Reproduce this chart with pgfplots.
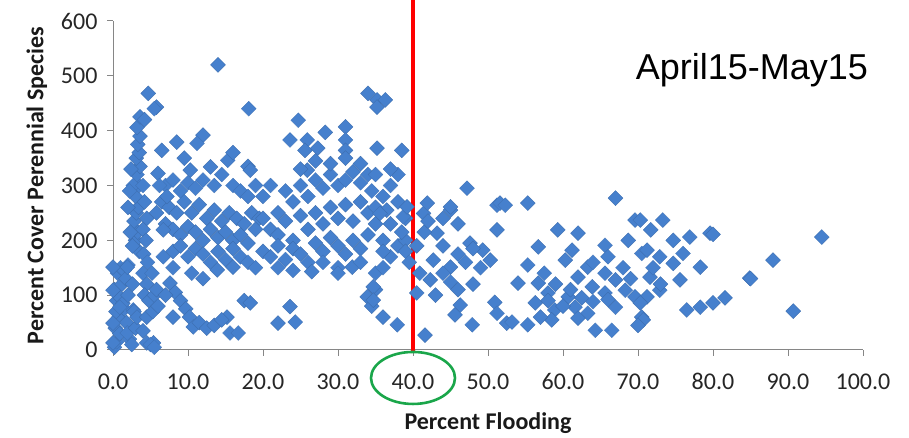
\documentclass[border=0pt]{standalone}
\usepackage{fontspec}
\setmainfont{Carlito}
\newfontfamily\arialfont{Liberation Sans}
\usepackage{pgfplots}
\pgfplotsset{compat=1.18}
\definecolor{ptblue}{RGB}{70,128,205}
\definecolor{axgray}{RGB}{134,134,134}
\definecolor{ovalgreen}{RGB}{26,166,74}
\begin{document}
\begin{tikzpicture}[x=1pt,y=1pt]
\path[use as bounding box] (0,0) rectangle (909,438);
\begin{axis}[
  at={(113pt,88pt)}, anchor=south west,
  scale only axis, width=750pt, height=329pt,
  xmin=0, xmax=100, ymin=0, ymax=600,
  axis lines*=left,
  axis line style={axgray, line width=1pt},
  tick align=outside, major tick length=6pt,
  tick style={axgray, line width=1pt},
  xtick={0,10,...,100}, ytick={0,100,...,600},
  xticklabel style={/pgf/number format/.cd, fixed, fixed zerofill, precision=1, /tikz/.cd, yshift=-14pt},
  yticklabel style={/pgf/number format/.cd, fixed, precision=0, /tikz/.cd, xshift=-6pt},
  /pgf/number format/assume math mode=true,
  ticklabel style={font=\fontsize{24}{27}\selectfont, text=black!85},
  xlabel={Percent Flooding}, ylabel={Percent Cover Perennial Species},
  label style={font=\fontsize{24}{28}\selectfont\bfseries, text=black!90},
  xlabel style={yshift=-16pt},
  ylabel style={yshift=7pt},
  clip=false,
]
\addplot[only marks, mark=square*, mark size=5.3pt,
  mark options={rotate=45, fill=ptblue, draw=ptblue!85!black, line width=0.3pt}]
coordinates {
(0.2,5)(0.5,15)(0.3,40)(0.8,60)(0.5,90)(0.2,110)(0.6,140)(1.0,150)(1.5,145)(2.0,155)
(1.2,120)(1.0,95)(1.5,75)(1.8,50)(0.9,30)(2.2,20)(1.3,85)(0.4,70)(2.0,100)(1.7,130)
(0,151)(1.9,151)(0,109)(0.9,78)(2.7,73)(0,49)(1.9,31)(0,13)(4.5,13)(5.4,13)
(2.5,10)(3,40)(2.8,70)(3.2,60)(2.6,120)(3.5,180)(3.0,200)(3.3,215)(2.8,235)(3.1,250)
(3.4,260)(3.0,280)(3.5,300)(2.7,300)(3.2,320)(3.6,335)(3.1,350)(3.5,360)(3.3,375)(3.6,390)
(3.2,406)(3.6,425)(4.2,420)(4.7,468)(5.8,443)(5.5,440)(4.0,300)(4.2,270)(4.5,240)(4.0,220)
(4.4,200)(4.1,175)(4.6,160)(4.0,140)(4.5,120)(4.2,100)(4.8,90)(4.5,60)(4.0,35)(5.0,10)
(5.5,5)(5.3,70)(5.5,100)(5.8,110)(5.2,140)(2.2,290)(2.0,260)(2.4,330)(2.6,190)(2.3,215)
(6.5,364)(8.5,379)(12,392)(11.2,377)(15.3,346)(6,322)(10.3,328)(13,334)(7,300)(8,310)
(9,290)(10,305)(11,295)(12,310)(13.5,300)(14.5,320)(16,300)(17,290)(18,280)(19,300)
(6.5,270)(7.5,260)(8.5,250)(9.5,270)(10.5,250)(11.5,265)(12.5,240)(13.5,255)(14.5,235)(15.5,250)
(16.5,240)(17.5,230)(18.5,250)(19.5,240)(7,230)(8,220)(9,210)(10,225)(11,215)(12,200)
(13,220)(14,205)(15,215)(16,200)(17,210)(18,195)(19,220)(6.7,219)(6.7,170)(8,180)
(9,190)(10,170)(11,185)(12,175)(13,160)(14,180)(15,165)(16,185)(17,170)(18,160)
(19,150)(13.9,146)(16,151)(7.6,122)(8.3,105)(9,90)(9.7,75)(10.2,60)(10.7,42)(11.5,50)
(12.5,40)(13.5,45)(15.2,60)(15.6,31)(7,100)(6,80)(8,60)(14.5,55)(17.5,90)(18.1,440)
(14,520)(9.5,350)(16,360)(18,335)(8,150)(12,130)(10.5,140)(6.2,300)(7.2,280)(5.8,250)
(18.3,86)(23.6,79)(22,49)(24.3,51)(16.7,31)(33.9,97)(34.5,80)(35,110)
(24.7,419)(31,407)(28.3,397)(23.6,383)(25.9,383)(31,383)(34,468)(25.6,364)(27.3,368)(31,364)
(18.3,328)(25.9,328)(35.2,456)(36.3,456)(35.2,443)(35.2,368)(38.5,364)
(20,280)(21,300)(22,250)(23,290)(24,270)(25,300)(26,280)(27,310)(28,295)(29,320)
(30,300)(31,310)(32,325)(33,305)(34,320)(20,240)(21,220)(22,210)(23,235)(24,200)
(25,245)(26,220)(27,250)(28,230)(29,260)(30,240)(31,265)(32,235)(33,270)(34,250)
(20,180)(21,170)(22,190)(23,165)(24,185)(25,175)(26,160)(27,195)(28,180)(29,205)
(30,190)(31,175)(32,200)(33,185)(34,210)(22,150)(24,145)(26.5,143)(28,160)(30,150)
(31.9,151)(33,160)(25,330)(27,345)(29,340)(31,350)(33,340)(30,140)(35,140)(36,150)
(37,170)(38,190)(39,200)(36,200)(37,230)(35,260)(36,280)(37,300)(38,320)(35,320)
(34.5,290)(36.5,255)(38,270)(39,240)(37,330)(39,180)(39.5,160)(38.5,215)(35,230)(36,180)
(35.6,249)(45,255)(51.2,264)(38.7,243)(41.4,249)(43.2,213)(51.2,219)(47.6,195)(49.3,182)(50.3,164)
(42.7,164)(45,151)(40.9,140)(42.3,128)(45,124)(40.5,104)(34.7,115)(34.7,91)(36,60)(37.9,46)
(41.6,27)(46.3,82)(45.6,64)(47.9,46)(50.9,87)(51.2,67)(52.5,49)(47.2,295)(41.9,268)(45,261)
(51.6,268)(39.2,261)(44,240)(46,230)(48,185)(44,190)(46,175)(47,160)(49,150)(48,120)
(43,100)(44,140)(46,110)(40.5,190)(41.5,215)(42,235)
(55.3,268)(67,277)(52.3,264)(69.6,237)(59.3,219)(62,213)(68.7,200)(56.7,188)(65.6,191)(61.2,182)
(60.3,164)(70.5,176)(55.3,155)(63.3,151)(65.6,140)(54,122)(56.7,122)(62,133)(67,128)(63.9,115)
(58,104)(60.7,97)(65.6,104)(68.3,109)(56.3,86)(58.9,73)(61.6,78)(63.3,67)(67,78)(69.6,97)
(53.2,51)(55.3,46)(58.5,55)(64.3,36)(66.5,36)(70.5,60)(57.5,140)(59,120)(61,110)(62.5,95)
(64,88)(66,92)(68,150)(69,130)(66,170)(64,160)(58,90)(60,80)(57,60)(62,58)
(73.3,237)(79.6,213)(76.9,206)(74.7,200)(71.7,219)(76,176)(72.9,170)(70.3,237)(71.2,182)(74.7,158)
(78.3,151)(88,164)(84.9,131)(75.6,128)(71.6,133)(71.2,97)(72.9,109)(76.5,73)(78.3,78)(80,86)
(81.6,95)(70.7,55)(70.3,86)(73,120)(72,150)(70,45)
(80,211)(85,130)(94.5,206)(90.7,71)
};
\draw[red, line width=4.5pt] (axis cs:40,-6) -- (axis cs:40,640);
\draw[ovalgreen, line width=2.6pt] (axis cs:40,-51) ellipse [x radius=42pt, y radius=26pt];
\node[font=\arialfont\fontsize{36}{40}\selectfont, text=black] at (axis cs:85.2,510) {April15-May15};
\end{axis}
\end{tikzpicture}
\end{document}
